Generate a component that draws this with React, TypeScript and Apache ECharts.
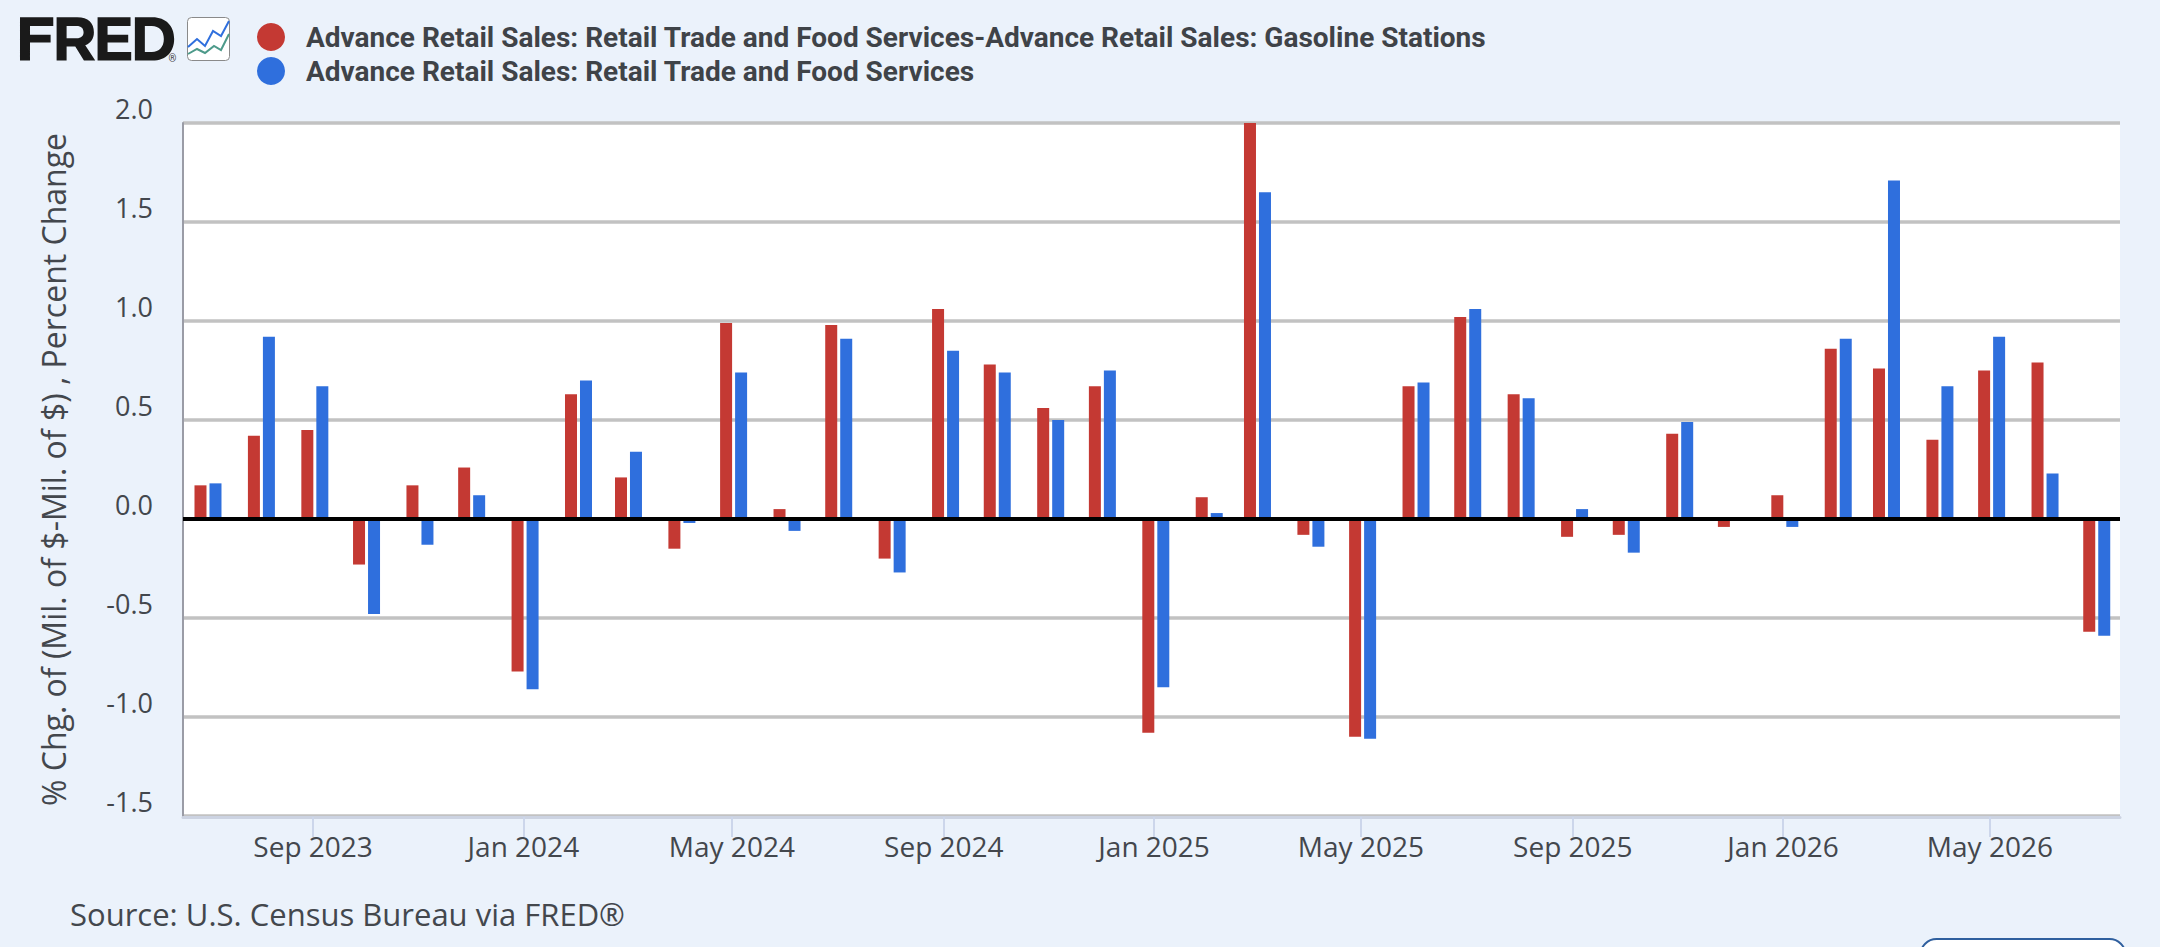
import React, { useEffect, useRef } from "react";
import * as echarts from "echarts";

const months = [
  "2023-07","2023-08","2023-09","2023-10","2023-11","2023-12",
  "2024-01","2024-02","2024-03","2024-04","2024-05","2024-06","2024-07","2024-08","2024-09","2024-10","2024-11","2024-12",
  "2025-01","2025-02","2025-03","2025-04","2025-05","2025-06","2025-07","2025-08","2025-09","2025-10","2025-11","2025-12",
  "2026-01","2026-02","2026-03","2026-04","2026-05","2026-06","2026-07",
];
const exGas = [
  0.17,0.42,0.45,-0.23,0.17,0.26,
  -0.77,0.63,0.21,-0.15,0.99,0.05,0.98,-0.2,1.06,0.78,0.56,0.67,
  -1.08,0.11,2.0,-0.08,-1.1,0.67,1.02,0.63,-0.09,-0.08,0.43,-0.04,
  0.12,0.86,0.76,0.4,0.75,0.79,-0.57,
];
const total = [
  0.18,0.92,0.67,-0.48,-0.13,0.12,
  -0.86,0.7,0.34,-0.02,0.74,-0.06,0.91,-0.27,0.85,0.74,0.5,0.75,
  -0.85,0.03,1.65,-0.14,-1.11,0.69,1.06,0.61,0.05,-0.17,0.49,0,
  -0.04,0.91,1.71,0.67,0.92,0.23,-0.59,
];
const tickMonths = ["2023-09","2024-01","2024-05","2024-09","2025-01","2025-05","2025-09","2026-01","2026-05"];
const tickLabels = ["Sep 2023","Jan 2024","May 2024","Sep 2024","Jan 2025","May 2025","Sep 2025","Jan 2026","May 2026"];
const nameExGas = "Advance Retail Sales: Retail Trade and Food Services-Advance Retail Sales: Gasoline Stations";
const nameTotal = "Advance Retail Sales: Retail Trade and Food Services";
const yTitle = "% Chg. of (Mil. of $-Mil. of $) , Percent Change";
const sourceText = "Source: U.S. Census Bureau via FRED®";

const ts = (m: string, day = 1) => {
  const [y, mo] = m.split("-").map(Number);
  return Date.UTC(y, mo - 1, day);
};
const BG = "#ebf2fb";
const OPEN = '"Open Sans", sans-serif';
const FRED_D =
  "M60 52H160V78H90V104H152V128H90V182H60Z" +
  "M170 52H232C265 52 282 70 282 97C282 117 272 130 256 136L286 182H252L226 140H200V182H170Z" +
  "M200 78V115H230C244 115 251 108 251 97C251 85 244 78 230 78Z" +
  "M293 52H392V78H323V104H385V128H323V156H394V182H293Z" +
  "M405 52H458C498 52 523 78 523 117C523 156 498 182 458 182H405Z" +
  "M435 78V156H456C478 156 492 141 492 117C492 93 478 78 456 78Z";
echarts.graphic.registerShape("fredLogo", echarts.graphic.extendPath(FRED_D, {}));

export default function App() {
  const ref = useRef<HTMLDivElement>(null);
  useEffect(() => {
    const chart = echarts.init(ref.current!, undefined, { renderer: "svg" });
    const tickTs = tickMonths.map((m) => ts(m));
    chart.setOption({
      animation: false,
      backgroundColor: BG,
      legend: {
        orient: "vertical",
        left: 257,
        top: 23,
        padding: 0,
        icon: "circle",
        itemWidth: 28,
        itemHeight: 28,
        itemGap: 6,
        selectedMode: false,
        textStyle: { fontFamily: "Roboto", fontWeight: 700, fontSize: 28, color: "#3f4348", padding: [0, 0, 0, 16] },
        data: [nameExGas, nameTotal],
      },
      grid: { left: 183, right: 40, top: 123, height: 693, show: true, backgroundColor: "#fff", borderWidth: 0 },
      xAxis: {
        type: "value",
        min: Date.UTC(2023, 5, 17, 12),
        max: Date.UTC(2026, 6, 15, 12),
        offset: 1,
        axisLine: { show: true, onZero: false, lineStyle: { color: "#ccd3e2", width: 3 } },
        axisTick: { show: true, length: 20, customValues: tickTs, lineStyle: { color: "#ccd6eb", width: 2 } },
        axisLabel: {
          customValues: tickTs,
          margin: 15,
          fontFamily: OPEN,
          fontSize: 28,
          color: "#43474d",
          hideOverlap: false,
          showMinLabel: true,
          showMaxLabel: true,
          formatter: (v: number) => tickLabels[tickTs.indexOf(v)] ?? "",
        },
        splitLine: { show: false },
      },
      yAxis: {
        type: "value",
        min: -1.5,
        max: 2,
        interval: 0.5,
        name: yTitle,
        nameLocation: "middle",
        nameGap: 114,
        nameTextStyle: { fontFamily: OPEN, fontSize: 32, color: "#43474d" },
        axisLine: { show: true, onZero: false, lineStyle: { color: "#9a9ca6", width: 2 } },
        axisTick: { show: false },
        axisLabel: {
          margin: 30,
          fontFamily: OPEN,
          fontSize: 27,
          color: "#43474d",
          verticalAlign: "bottom",
          lineHeight: 29,
          formatter: (v: number) => v.toFixed(1),
        },
        splitLine: { show: true, showMinLine: true, showMaxLine: true, lineStyle: { color: "#c2c2c2", width: 3.5 } },
      },
      series: [
        {
          name: nameExGas,
          type: "bar",
          barWidth: 12,
          barGap: "25%",
          itemStyle: { color: "#c43933" },
          data: months.map((m, i) => [ts(m, 2), exGas[i]]),
          markLine: {
            silent: true,
            symbol: "none",
            label: { show: false },
            z: 10,
            lineStyle: { color: "#000", width: 4, type: "solid" },
            data: [{ yAxis: 0 }],
          },
        },
        {
          name: nameTotal,
          type: "bar",
          barWidth: 12,
          itemStyle: { color: "#2f6fdd" },
          data: months.map((m, i) => [ts(m, 2), total[i]]),
        },
      ],
      graphic: [
        { type: "fredLogo", x: 0, y: 0, scaleX: 1 / 3, scaleY: 1 / 3, style: { fill: "#1a1a1a" } },
        { type: "text", x: 168.5, y: 53, style: { text: "®", fontFamily: "Roboto", fontSize: 10, fill: "#444" } },
        { type: "rect", shape: { x: 187.5, y: 17.5, width: 42, height: 43, r: 4 }, style: { fill: "#fff", stroke: "#8a8a8a", lineWidth: 1 } },
        { type: "polyline", shape: { points: [[188,47],[197,39],[205,46],[213,31],[221,36],[229,21]] }, style: { fill: "none", stroke: "#2f6fdd", lineWidth: 2 } },
        { type: "polyline", shape: { points: [[188,54],[197,49],[205,53],[214,46],[221,50],[229,34]] }, style: { fill: "none", stroke: "#4d9a8a", lineWidth: 2 } },
        { type: "text", x: 70, y: 898, style: { text: sourceText, fontFamily: OPEN, fontSize: 31, fill: "#43474d" } },
        { type: "rect", shape: { x: 1920.5, y: 939, width: 205, height: 40, r: 16 }, style: { fill: "#fff", stroke: "#2f5f9e", lineWidth: 2 } },
      ],
    });
    return () => chart.dispose();
  }, []);
  return <div ref={ref} style={{ position: "fixed", left: 0, top: 0, width: 2160, height: 947 }} />;
}
